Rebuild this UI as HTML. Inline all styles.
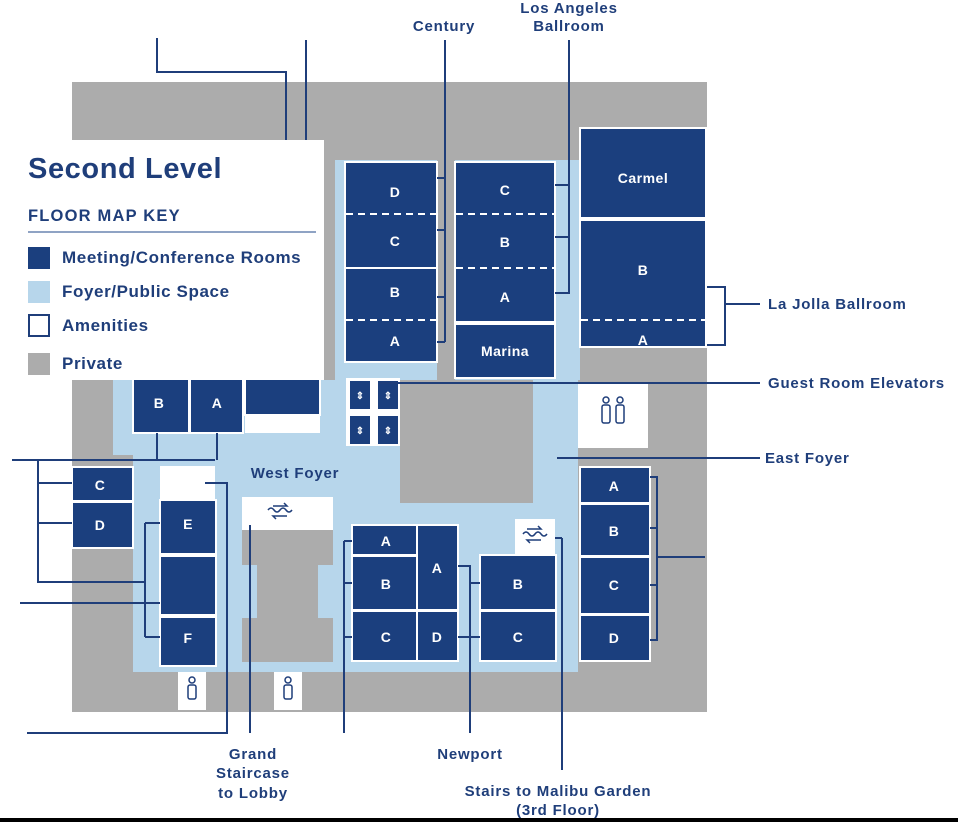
<!DOCTYPE html>
<html><head><meta charset="utf-8"><style>
html,body{margin:0;padding:0;background:#fff;}
svg{display:block;}
text{font-family:"Liberation Sans",sans-serif;font-weight:bold;fill:#1f3e7a;}
.r{fill:#1b3f7e;stroke:#fff;stroke-width:2;}
.rt{fill:#fff;font-size:14px;text-anchor:middle;letter-spacing:0.5px;}
.l{stroke:#1f3e7a;stroke-width:2;fill:none;}
.d{stroke:#fff;stroke-width:2;stroke-dasharray:7,5;}
.lb{font-size:15px;letter-spacing:0.8px;}
</style></head><body>
<svg width="958" height="822" viewBox="0 0 958 822">
<rect x="72" y="82" width="635" height="630" fill="#acacac"/>
<path d="M335 160 H580 V380 H578 V672 H133 V455 H113 V380 H335 Z" fill="#b7d6eb"/>
<rect x="437" y="160" width="18" height="220" fill="#acacac"/>
<rect x="400" y="380" width="133" height="123" fill="#acacac"/>
<rect x="72" y="548" width="61" height="164" fill="#acacac"/>
<rect x="72" y="672" width="635" height="40" fill="#acacac"/>
<rect x="578" y="380" width="129" height="332" fill="#acacac"/>
<path d="M242 530 H333 V565 H318 V618 H333 V662 H242 V618 H257 V565 H242 Z" fill="#acacac"/>
<rect x="178" y="672" width="28" height="38" fill="#fff"/>
<rect x="274" y="672" width="28" height="38" fill="#fff"/>
<rect x="578" y="383" width="70" height="65" fill="#fff"/>
<rect x="242" y="497" width="91" height="33" fill="#fff"/>
<rect x="515" y="519" width="40" height="36" fill="#fff"/>
<rect x="160" y="466" width="55" height="34" fill="#fff"/>
<rect x="346" y="378" width="54" height="68" fill="#fff"/>
<rect x="245" y="415" width="75" height="18" fill="#fff"/>
<g fill="none" stroke="#1f3e7a" stroke-width="1.5">
<circle cx="192" cy="680" r="3"/><rect x="188" y="685" width="8" height="14" rx="2"/>
<circle cx="288" cy="680" r="3"/><rect x="284" y="685" width="8" height="14" rx="2"/>
<circle cx="606" cy="400" r="3"/><rect x="602" y="405" width="8" height="18" rx="2"/>
<circle cx="620" cy="400" r="3"/><rect x="616" y="405" width="8" height="18" rx="2"/>
<path d="M268 510 q3-4 6 0 t6 0 t6 0 t6 0 M273 506 h14 l-3-3 M287 516 h-14 l3 3"/>
<path d="M523 534 q3-4 6 0 t6 0 t6 0 t6 0 M527 529 h14 l-3-3 M541 540 h-14 l3 3"/>
</g>
<rect class="r" x="345" y="162" width="92" height="106"/><line class="d" x1="346" y1="214" x2="436" y2="214"/>
<rect class="r" x="345" y="268" width="92" height="94"/><line class="d" x1="346" y1="320" x2="436" y2="320"/>
<text class="rt" x="395" y="197">D</text><text class="rt" x="395" y="246">C</text><text class="rt" x="395" y="297">B</text><text class="rt" x="395" y="346">A</text>
<rect class="r" x="455" y="162" width="100" height="160"/>
<line class="d" x1="456" y1="214" x2="554" y2="214"/><line class="d" x1="456" y1="268" x2="554" y2="268"/>
<rect class="r" x="455" y="324" width="100" height="54"/>
<text class="rt" x="505" y="195">C</text><text class="rt" x="505" y="247">B</text><text class="rt" x="505" y="302">A</text><text class="rt" x="505" y="356">Marina</text>
<rect class="r" x="580" y="128" width="126" height="90"/>
<rect class="r" x="580" y="220" width="126" height="127"/><line class="d" x1="581" y1="320" x2="705" y2="320"/>
<text class="rt" x="643" y="183">Carmel</text><text class="rt" x="643" y="275">B</text><text class="rt" x="643" y="350" dy="-5">A</text>
<rect class="r" x="133" y="378" width="56" height="55"/><rect class="r" x="190" y="378" width="53" height="55"/>
<rect class="r" x="245" y="378" width="75" height="37"/>
<text class="rt" x="159" y="408">B</text><text class="rt" x="217" y="408">A</text>
<g fill="#1b3f7e"><rect x="350" y="381" width="20" height="28"/><rect x="378" y="381" width="20" height="28"/><rect x="350" y="416" width="20" height="28"/><rect x="378" y="416" width="20" height="28"/></g>
<g font-size="10"><text x="360" y="399" text-anchor="middle" style="fill:#fff">⇕</text><text x="388" y="399" text-anchor="middle" style="fill:#fff">⇕</text><text x="360" y="434" text-anchor="middle" style="fill:#fff">⇕</text><text x="388" y="434" text-anchor="middle" style="fill:#fff">⇕</text></g>
<rect class="r" x="72" y="467" width="61" height="34"/><rect class="r" x="72" y="502" width="61" height="46"/>
<text class="rt" x="100" y="490">C</text><text class="rt" x="100" y="530">D</text>
<rect class="r" x="160" y="500" width="56" height="54"/><rect class="r" x="160" y="556" width="56" height="59"/><rect class="r" x="160" y="617" width="56" height="49"/>
<text class="rt" x="188" y="529">E</text><text class="rt" x="188" y="643">F</text>
<rect class="r" x="352" y="525" width="65" height="30"/><rect class="r" x="352" y="556" width="65" height="54"/><rect class="r" x="352" y="611" width="65" height="50"/>
<rect class="r" x="417" y="525" width="41" height="85"/><rect class="r" x="417" y="611" width="41" height="50"/>
<text class="rt" x="386" y="546">A</text><text class="rt" x="386" y="589">B</text><text class="rt" x="386" y="642">C</text><text class="rt" x="437" y="573">A</text><text class="rt" x="437" y="642">D</text>
<rect class="r" x="480" y="555" width="76" height="55"/><rect class="r" x="480" y="611" width="76" height="50"/>
<text class="rt" x="518" y="589">B</text><text class="rt" x="518" y="642">C</text>
<rect class="r" x="580" y="467" width="70" height="36"/><rect class="r" x="580" y="504" width="70" height="52"/><rect class="r" x="580" y="557" width="70" height="57"/><rect class="r" x="580" y="615" width="70" height="46"/>
<text class="rt" x="614" y="491">A</text><text class="rt" x="614" y="536">B</text><text class="rt" x="614" y="590">C</text><text class="rt" x="614" y="643">D</text>
<g class="l">
<path d="M157 38 V72 H286 V140 M306 40 V140"/>
<path d="M445 40 V342 M437 178 H445 M437 230 H445 M437 297 H445 M437 342 H445"/>
<path d="M569 40 V293 H555 M555 185 H569 M555 237 H569"/>
<path d="M707 287 H725 V345 H707 M725 304 H760"/>
<path d="M380 383 H760 M557 458 H760"/>
<path d="M650 477 H657 V640 H650 M650 528 H657 M650 585 H657 M657 557 H705"/>
<path d="M12 460 H215 M157 433 V460 M217 433 V460"/>
<path d="M38 460 V582 H145 M38 483 H72 M38 523 H72 M145 523 V637 M145 523 H160 M145 637 H160 M20 603 H160"/>
<path d="M27 733 H227 V483 H205"/>
<path d="M250 525 V733"/>
<path d="M344 541 V733 M344 541 H352 M344 583 H352 M344 637 H352"/>
<path d="M458 566 H470 V733 M470 583 H480 M458 637 H480"/>
<path d="M562 538 H555 M562 538 V770"/>
</g>
<rect x="0" y="140" width="324" height="240" fill="#fff"/>
<text x="28" y="178" font-size="29" style="letter-spacing:0.6px">Second Level</text>
<text x="28" y="221" font-size="16.5" style="letter-spacing:1.2px">FLOOR MAP KEY</text>
<line x1="28" y1="232" x2="316" y2="232" stroke="#8fa3c4" stroke-width="2"/>
<rect x="28" y="247" width="22" height="22" fill="#1b3f7e"/>
<rect x="28" y="281" width="22" height="22" fill="#b7d6eb"/>
<rect x="29" y="315" width="20" height="21" fill="#fff" stroke="#1f3e7a" stroke-width="2"/>
<rect x="28" y="353" width="22" height="22" fill="#acacac"/>
<g font-size="17" style="letter-spacing:0.6px">
<text x="62" y="263">Meeting/Conference Rooms</text>
<text x="62" y="297">Foyer/Public Space</text>
<text x="62" y="331">Amenities</text>
<text x="62" y="369">Private</text>
</g>
<g class="lb">
<text x="444" y="31" text-anchor="middle">Century</text>
<text x="569" y="13" text-anchor="middle">Los Angeles</text>
<text x="569" y="31" text-anchor="middle">Ballroom</text>
<text x="768" y="309">La Jolla Ballroom</text>
<text x="768" y="388">Guest Room Elevators</text>
<text x="765" y="463">East Foyer</text>
<text x="295" y="478" text-anchor="middle">West Foyer</text>
<text x="253" y="759" text-anchor="middle">Grand</text>
<text x="253" y="778" text-anchor="middle">Staircase</text>
<text x="253" y="798" text-anchor="middle">to Lobby</text>
<text x="470" y="759" text-anchor="middle">Newport</text>
<text x="558" y="796" text-anchor="middle">Stairs to Malibu Garden</text>
<text x="558" y="815" text-anchor="middle">(3rd Floor)</text>
</g>
<rect x="0" y="818" width="958" height="4" fill="#000"/>
</svg>
</body></html>
